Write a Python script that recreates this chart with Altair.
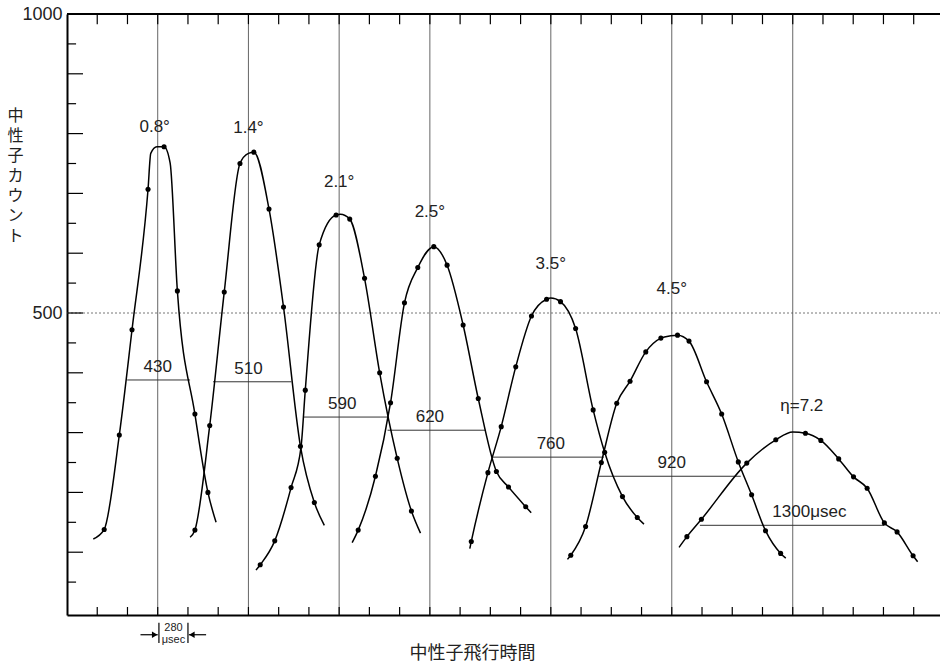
import altair as alt
import pandas as pd

# x: time of flight in units of the axis tick spacing; y: neutron counts
XMAX = 28.87
peaks = [3, 6, 9, 12, 16, 20, 24]

angle_labels = ["0.8°", "1.4°", "2.1°", "2.5°", "3.5°", "4.5°", "η=7.2"]
angle_label_x = [2.9, 6.0, 9.0, 12.0, 16.0, 20.0, 24.3]
angle_label_y = [811, 809, 719, 669, 582, 540, 345]

fwhm_text = ["430", "510", "590", "620", "760", "920", "1300μsec"]
fwhm_level = [388, 385, 326, 304, 259, 227, 145]
fwhm_x1 = [1.99, 4.83, 7.81, 10.6, 14.07, 17.58, 20.93]
fwhm_x2 = [4.07, 7.42, 10.6, 13.84, 17.75, 22.28, 27.02]
fwhm_label_x = [3.0, 6.0, 9.1, 12.0, 16.0, 20.0, 24.55]

c1_x = [0.87, 1.23, 1.73, 2.15, 2.68, 2.77, 2.97, 3.21, 3.41, 3.65, 4.23, 4.66, 4.93]
c1_y = [122, 138, 296, 472, 707, 767, 778, 778, 751, 537, 331, 200, 150]
c1_dot = [0, 1, 1, 1, 1, 0, 0, 1, 0, 1, 1, 1, 0]

c2_x = [4.07, 4.23, 4.72, 5.2, 5.72, 6.0, 6.18, 6.68, 7.16, 7.72, 8.18, 8.51]
c2_y = [125, 137, 312, 535, 750, 767, 769, 674, 510, 277, 183, 145]
c2_dot = [0, 1, 1, 1, 1, 0, 1, 1, 1, 1, 1, 0]

c3_x = [6.25, 6.39, 6.87, 7.41, 7.74, 7.88, 8.34, 8.9, 9.04, 9.35, 9.84, 10.34, 10.92, 11.39, 11.69]
c3_y = [70, 79, 119, 208, 276, 371, 614, 664, 665, 657, 558, 400, 257, 169, 132]
c3_dot = [0, 1, 1, 1, 0, 1, 1, 1, 0, 1, 1, 1, 1, 1, 0]

c4_x = [9.43, 9.63, 10.2, 10.7, 11.16, 11.6, 12.13, 12.57, 13.1, 13.6, 14.2, 14.6, 15.17, 15.35]
c4_y = [116, 137, 227, 350, 517, 576, 611, 580, 480, 357, 235, 209, 176, 166]
c4_dot = [0, 1, 1, 1, 1, 1, 1, 1, 1, 1, 1, 1, 1, 0]

c5_x = [13.32, 13.37, 13.92, 14.36, 14.84, 15.36, 15.86, 16.0, 16.32, 16.82, 17.4, 17.78, 18.37, 18.86, 19.08]
c5_y = [106, 118, 233, 310, 410, 495, 523, 525, 519, 474, 338, 267, 193, 158, 147]
c5_dot = [0, 1, 1, 1, 1, 1, 1, 0, 1, 1, 1, 1, 1, 1, 0]

c6_x = [16.55, 16.66, 17.15, 17.67, 18.18, 18.62, 19.14, 19.64, 19.97, 20.19, 20.57, 21.15, 21.65, 22.2, 22.64, 23.1, 23.6, 23.77]
c6_y = [88, 95, 143, 250, 349, 386, 435, 458, 462, 463, 453, 385, 331, 251, 196, 136, 98, 90]
c6_dot = [0, 1, 1, 1, 1, 1, 1, 1, 0, 1, 1, 1, 1, 1, 1, 1, 1, 0]

c7_x = [20.24, 20.5, 20.98, 22.48, 23.44, 24.0, 24.42, 24.93, 25.52, 26.01, 26.46, 27.03, 27.45, 27.98, 28.13]
c7_y = [108, 126, 155, 249, 288, 301, 299, 287, 256, 226, 207, 149, 134, 94, 84]
c7_dot = [0, 1, 1, 1, 1, 0, 1, 1, 1, 1, 1, 1, 1, 1, 0]

y_tick_values = list(range(50, 1000, 50))
x_tick_values = list(range(1, 29))

FONT = "Liberation Sans"
CJK = "Noto Sans CJK JP"

rows = []
for ci, (xs, ys, ds) in enumerate([(c1_x, c1_y, c1_dot), (c2_x, c2_y, c2_dot), (c3_x, c3_y, c3_dot),
                                   (c4_x, c4_y, c4_dot), (c5_x, c5_y, c5_dot), (c6_x, c6_y, c6_dot),
                                   (c7_x, c7_y, c7_dot)]):
    for i, (xv, yv, dv) in enumerate(zip(xs, ys, ds)):
        rows.append({"curve": ci, "order": i, "x": xv, "y": yv, "dot": dv})
curves = pd.DataFrame(rows)

x_axis = alt.Axis(ticks=False, tickSize=0, labels=False, grid=False, domain=True,
                  domainColor="black", domainWidth=2,
                  title="中性子飛行時間", titleFont=CJK, titleFontSize=18, titleFontWeight="normal",
                  titleColor="#222", titleX=405, titleY=38, titleAlign="center", titleBaseline="middle")
y_axis = alt.Axis(values=[500, 1000], format="d", ticks=False, tickSize=0, labelPadding=5, grid=False,
                  domain=True, domainColor="black", domainWidth=2,
                  labelFont=FONT, labelFontSize=18, labelColor="#222",
                  title=list("中性子カウント"), titleAngle=0, titleFont=CJK, titleFontSize=16,
                  titleFontWeight="normal", titleColor="#222", titleX=-52, titleY=93,
                  titleAlign="center", titleBaseline="top", titleLineHeight=20)

X = alt.X("x:Q", scale=alt.Scale(domain=[0, XMAX], nice=False, zero=False), axis=x_axis)
Y = alt.Y("y:Q", scale=alt.Scale(domain=[-5, 1000], nice=False, zero=False), axis=y_axis)

lines = alt.Chart(curves).mark_line(interpolate="monotone", color="black", strokeWidth=1.5).encode(
    x=X, y=Y, detail="curve:N", order="order:Q")
dots = alt.Chart(curves).transform_filter("datum.dot == 1").mark_circle(
    color="black", opacity=1, size=26).encode(x=X, y=Y)

# frame pieces and inward ticks
left_ticks = pd.DataFrame({"y": y_tick_values, "x": [0] * len(y_tick_values),
                           "x2": [0.53 if v % 100 == 0 else 0.3 for v in y_tick_values]})
left_tick_layer = alt.Chart(left_ticks).mark_rule(color="black", strokeWidth=1.2).encode(
    x=X, x2="x2:Q", y=Y)
bottom_ticks = pd.DataFrame({"x": x_tick_values, "y": [-5] * len(x_tick_values), "y2": [8.4] * len(x_tick_values)})
top_ticks = pd.DataFrame({"x": x_tick_values, "y": [1000] * len(x_tick_values), "y2": [983] * len(x_tick_values)})
bottom_tick_layer = alt.Chart(bottom_ticks).mark_rule(color="black", strokeWidth=1.2).encode(x=X, y=Y, y2="y2:Q")
top_tick_layer = alt.Chart(top_ticks).mark_rule(color="black", strokeWidth=1.2).encode(x=X, y=Y, y2="y2:Q")
top_border = alt.Chart(pd.DataFrame({"x": [0], "x2": [XMAX], "y": [1000]})).mark_rule(
    color="black", strokeWidth=2).encode(x=X, x2="x2:Q", y=Y)
grid500 = alt.Chart(pd.DataFrame({"x": [0], "x2": [XMAX], "y": [500]})).mark_rule(
    color="#777", strokeWidth=1, strokeDash=[2, 2]).encode(x=X, x2="x2:Q", y=Y)
peak_lines = alt.Chart(pd.DataFrame({"x": peaks, "y": [-5] * len(peaks), "y2": [1000] * len(peaks)})).mark_rule(
    color="#555", strokeWidth=0.9).encode(x=X, y=Y, y2="y2:Q")

fwhm = pd.DataFrame({"x": fwhm_x1, "x2": fwhm_x2, "y": fwhm_level})
fwhm_lines = alt.Chart(fwhm).mark_rule(color="#333", strokeWidth=1).encode(x=X, x2="x2:Q", y=Y)
fwhm_lab = pd.DataFrame({"x": fwhm_label_x, "y": fwhm_level, "text": fwhm_text})
fwhm_text_layer = alt.Chart(fwhm_lab).mark_text(font=FONT, fontSize=17, color="#222", dy=-13,
                                                baseline="middle", align="center").encode(x=X, y=Y, text="text:N")
ang = pd.DataFrame({"x": angle_label_x, "y": angle_label_y, "text": angle_labels})
ang_layer = alt.Chart(ang).mark_text(font=FONT, fontSize=17, color="#222", baseline="middle",
                                     align="center").encode(x=X, y=Y, text="text:N")

# 280 μsec scale marker below the axis
bars = pd.DataFrame({"x": [3.04, 4.0], "y": [-18, -18], "y2": [-52, -52]})
bar_layer = alt.Chart(bars).mark_rule(color="black", strokeWidth=1.2).encode(x=X, y=Y, y2="y2:Q")
arrows = pd.DataFrame({"x": [2.43, 4.03], "x2": [3.0, 4.6], "y": [-38, -38]})
arrow_layer = alt.Chart(arrows).mark_rule(color="black", strokeWidth=1.2).encode(x=X, x2="x2:Q", y=Y)
heads = pd.DataFrame({"x": [2.9, 4.13], "y": [-38, -38], "shape": ["triangle-right", "triangle-left"]})
head_layer = alt.Chart(heads).mark_point(filled=True, color="black", opacity=1, size=40).encode(
    x=X, y=Y, shape=alt.Shape("shape:N", scale=None))
scale_txt = pd.DataFrame({"x": [3.52, 3.52], "y": [-27, -47], "text": ["280", "μsec"]})
scale_txt_layer = alt.Chart(scale_txt).mark_text(font=FONT, fontSize=11, color="#222",
                                                 baseline="middle", align="center").encode(
    x=X, y=Y, text="text:N")

chart = alt.layer(
    grid500, peak_lines, top_border, left_tick_layer, bottom_tick_layer, top_tick_layer,
    fwhm_lines, lines, dots, fwhm_text_layer, ang_layer,
    bar_layer, arrow_layer, head_layer, scale_txt_layer
).properties(
    width=873, height=601,
    padding={"left": 67, "top": 14, "right": 0, "bottom": 47},
    autosize=alt.AutoSizeParams(type="none"),
    background="white",
).configure_view(strokeWidth=0)

chart.save("out.html", embed_options={"renderer": "svg", "actions": False})
